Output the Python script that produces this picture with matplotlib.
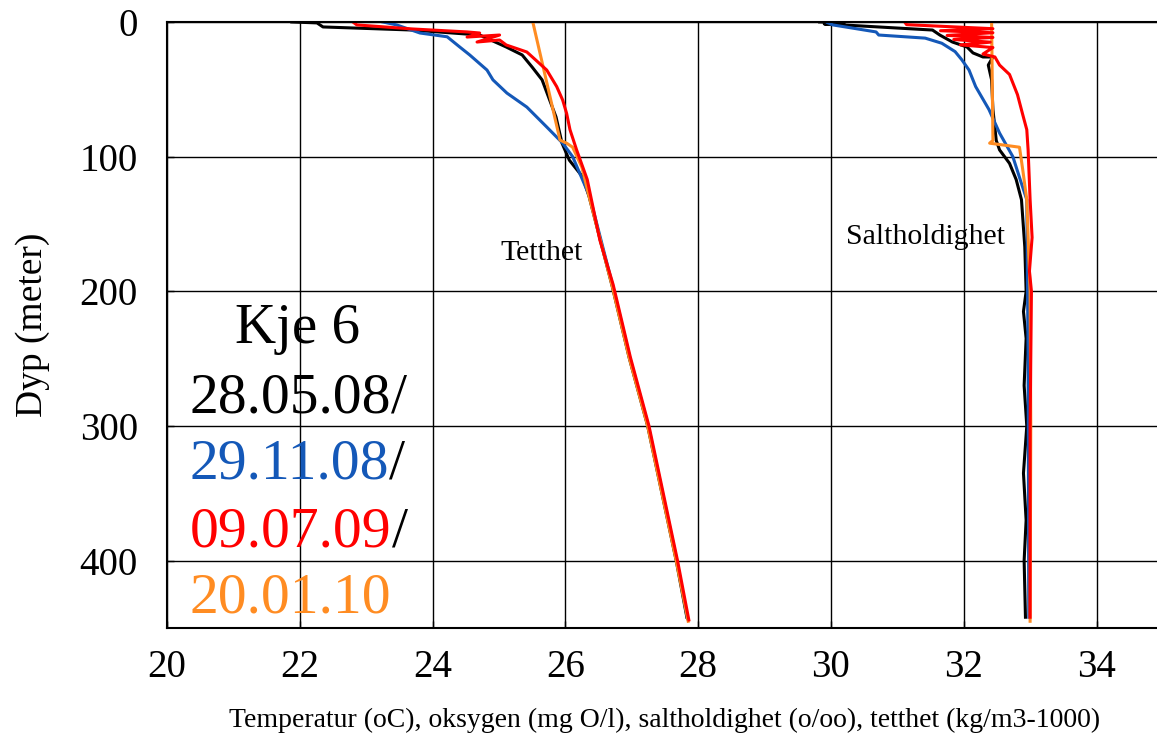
import matplotlib
matplotlib.use('Agg')
import matplotlib.pyplot as plt

plt.rcParams['font.family'] = ['Liberation Serif', 'DejaVu Serif']

# farger for de fire toktene
c_black = '#000000'
c_blue = '#1458b8'
c_red = '#ff0000'
c_orange = '#ff8c22'

# Tetthet (kg/m3-1000) mot dyp (m)
dens_280508_x = [21.88, 22.26, 22.35, 23.70, 24.71, 25.11, 25.35, 25.50, 25.65, 25.86, 25.95, 26.06, 26.26, 26.36,
                 26.71, 26.96, 27.24, 27.67, 27.83]
dens_280508_y = [0, 0.7, 3.7, 6, 9.7, 18.6, 24.5, 33.5, 43, 70.6, 90, 102.6, 115, 130, 197, 249, 300, 400, 442]

dens_291108_x = [23.25, 23.46, 23.81, 24.22, 24.41, 24.56, 24.82, 24.91, 25.12, 25.42, 25.72, 25.96, 26.11, 26.37,
                 26.72, 26.97, 27.25, 27.68, 27.84]
dens_291108_y = [0, 2.2, 8.2, 11, 18.6, 24.5, 35.7, 43, 52.8, 63.2, 78, 90, 100, 130, 197, 249, 300, 400, 443]

dens_090709_x = [22.80, 22.86, 23.70, 24.52, 24.71, 24.52, 25.01, 24.67, 25.01, 25.11, 25.42, 25.47, 25.72, 25.87,
                 25.96, 26.02, 26.07, 26.17, 26.33, 26.52, 26.72, 26.98, 27.26, 27.69, 27.86]
dens_090709_y = [0, 2.2, 5.2, 7.4, 8.2, 11.2, 9.7, 14.9, 13.4, 17.1, 22.3, 24.5, 35.7, 48, 58, 68, 80, 95, 117, 162,
                 195, 249, 300, 400, 444]

dens_200110_x = [25.51, 25.92, 26.02, 26.11, 26.25, 26.36, 26.71, 26.96, 27.24, 27.67, 27.85]
dens_200110_y = [0, 87.7, 90, 93, 108, 130, 197, 249, 300, 400, 445]

# Saltholdighet (o/oo) mot dyp (m)
salt_280508_x = [29.83, 30.20, 29.90, 30.18, 31.53, 31.64, 31.83, 32.05, 32.14, 32.29, 32.44, 32.37, 32.42, 32.44,
                 32.49, 32.54, 32.69, 32.79, 32.87, 32.92, 32.94, 32.90, 32.94, 32.91, 32.95, 32.90, 32.94, 32.91,
                 32.93]
salt_280508_y = [0, 0.5, 1.5, 2.2, 6, 9.7, 14.9, 18.6, 23, 26, 26, 32, 43, 65, 88, 95, 105, 117, 132, 167, 200, 215,
                 235, 270, 300, 335, 370, 400, 442]

salt_291108_x = [29.95, 30.03, 30.68, 30.72, 31.42, 31.67, 31.87, 31.97, 32.08, 32.18, 32.38, 32.54, 32.74, 32.87,
                 32.95, 32.97, 32.98]
salt_291108_y = [0.5, 2.2, 7.4, 9.7, 12, 15.8, 22, 28, 35.7, 48, 65, 82.5, 100, 120, 132, 250, 442]

salt_090709_x = [31.11, 31.14, 32.44, 31.65, 32.44, 31.75, 32.44, 31.85, 32.40, 31.95, 32.44, 32.29, 32.47, 32.54,
                 32.69, 32.81, 32.89, 32.95, 32.97, 33.00, 33.03, 32.99, 33.02, 33.00, 33.00]
salt_090709_y = [0, 2, 5, 6.5, 8, 10, 11.5, 13, 15, 17, 19, 23.8, 26, 32, 39, 54, 69, 80, 95, 132, 160, 185, 200, 300,
                 442]

salt_200110_x = [32.42, 32.44, 32.39, 32.54, 32.84, 32.89, 32.95, 33.00, 33.01, 33.00]
salt_200110_y = [0, 88, 90, 91, 93, 110, 132, 200, 300, 445]

x_ticks = [20, 22, 24, 26, 28, 30, 32, 34]
y_ticks = [0, 100, 200, 300, 400]

fig = plt.figure(figsize=(11.57, 7.37), dpi=100)
ax = fig.add_axes([0.1443, 0.1479, 0.8608, 0.8223])

lw = 2.2
ax.plot(dens_280508_x, dens_280508_y, color=c_black, lw=lw)
ax.plot(salt_280508_x, salt_280508_y, color=c_black, lw=lw)
ax.plot(dens_291108_x, dens_291108_y, color=c_blue, lw=lw)
ax.plot(salt_291108_x, salt_291108_y, color=c_blue, lw=lw)
ax.plot(dens_200110_x, dens_200110_y, color=c_orange, lw=lw)
ax.plot(salt_200110_x, salt_200110_y, color=c_orange, lw=lw)
ax.plot(dens_090709_x, dens_090709_y, color=c_red, lw=lw)
ax.plot(salt_090709_x, salt_090709_y, color=c_red, lw=lw)

ax.set_xlim(20, 35)
ax.set_ylim(450, 0)
ax.set_xticks(x_ticks)
ax.set_yticks(y_ticks)
ax.grid(True, color='black', lw=1.0)
ax.set_axisbelow(True)
ax.tick_params(direction='in', length=5, width=1, labelsize=28)
ax.tick_params(axis='x', pad=15)
ax.tick_params(axis='y', pad=21)
for s in ax.spines.values():
    s.set_linewidth(1.5)

ax.set_xlabel('Temperatur (oC), oksygen (mg O/l), saltholdighet (o/oo), tetthet (kg/m3-1000)', fontsize=20,
              labelpad=16)
ax.set_ylabel('Dyp (meter)', fontsize=27, labelpad=21)

ax.text(0.376, 0.619, 'Tetthet', transform=ax.transAxes, fontsize=21.5, ha='center', va='center')
ax.text(0.762, 0.645, 'Saltholdighet', transform=ax.transAxes, fontsize=21.5, ha='center', va='center')

# "legende" i tekst
ax.text(0.1315, 0.470, 'Kje 6', transform=ax.transAxes, fontsize=41, ha='center', va='baseline')
dates = ['28.05.08', '29.11.08', '09.07.09', '20.01.10']
date_colors = [c_black, c_blue, c_red, c_orange]
baselines = [0.356, 0.246, 0.135, 0.025]
for i, (d, c, yb) in enumerate(zip(dates, date_colors, baselines)):
    t = ax.text(0.0231, yb, d, transform=ax.transAxes, fontsize=41.5, color=c, ha='left', va='baseline')
    if i < len(dates) - 1:
        ax.annotate('/', xy=(1, 0), xycoords=t, fontsize=41.5, color='black', ha='left', va='bottom')

fig.savefig('out.png', dpi=100)
